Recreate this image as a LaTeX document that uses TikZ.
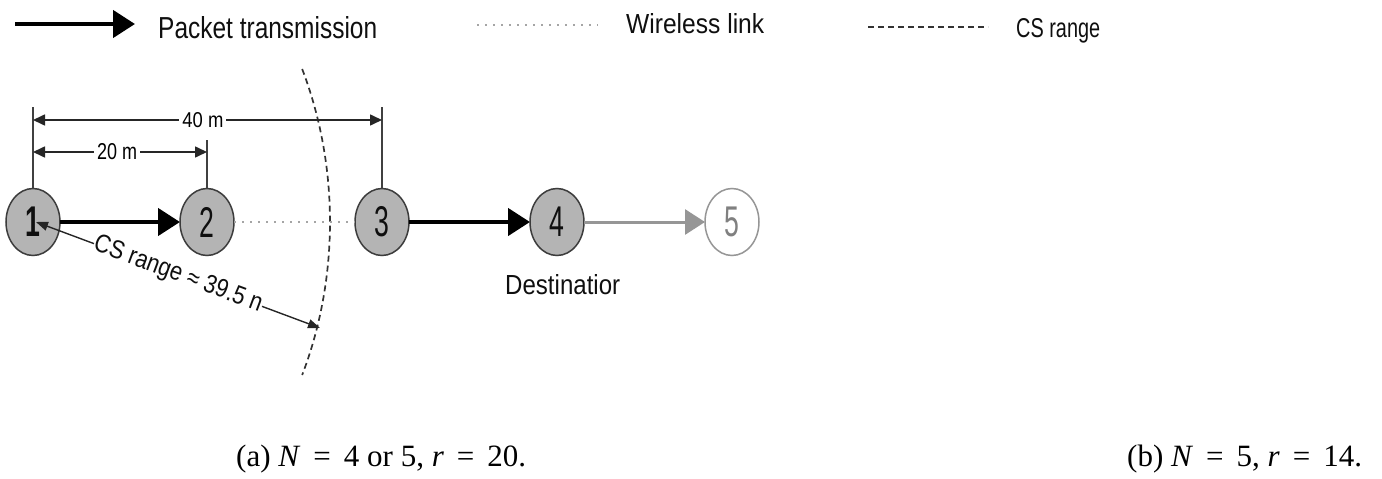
\documentclass[tikz,border=0pt]{standalone}
\usepackage{fontspec}
\usepackage{graphicx}
\setmainfont{Liberation Sans}
\newfontfamily\serifcap{Liberation Serif}
\newfontfamily\numfont[FakeStretch=0.62]{Liberation Sans}
\usetikzlibrary{arrows.meta,shapes.geometric}
\definecolor{nodefill}{RGB}{180,180,180}
\definecolor{nodeline}{RGB}{60,60,60}
\definecolor{linkgray}{RGB}{165,165,165}
\definecolor{fadegray}{RGB}{150,150,150}
\definecolor{inkgray}{RGB}{15,15,15}
% squeeze a label to a given width and height (pt)
\newcommand{\fitlabel}[3]{\resizebox{#1pt}{#2pt}{#3}}
% relation sign with the wider spacing of the captions
\newcommand{\capeq}{\hspace{0.42em}=\hspace{0.42em}}

\begin{document}
\begin{tikzpicture}[x=1pt,y=-1pt,
  station/.style={ellipse, draw=nodeline, line width=1.5pt, fill=nodefill,
    minimum width=54pt, minimum height=67pt, inner sep=0pt, outer sep=0pt,
    text=inkgray, font=\fontsize{43}{43}\numfont},
  idle/.style={station, fill=white, draw=fadegray, text=fadegray!85!black},
  pkt/.style={draw=black, line width=4.5pt, -{Triangle[length=22pt,width=27pt]}},
  fwd/.style={draw=fadegray, line width=3pt, -{Triangle[length=20pt,width=25pt]}},
  link/.style={draw=linkgray, line width=2pt, dash pattern=on 2pt off 6pt},
  csline/.style={draw=black!80, line width=1.7pt, dash pattern=on 6pt off 4pt},
  ext/.style={draw=black!75, line width=1.4pt},
  dimline/.style={draw=black!85, line width=1.6pt,
    {Triangle[length=12pt,width=11pt]}-{Triangle[length=12pt,width=11pt]}},
  csarrow/.style={draw=black!85, line width=1.4pt,
    {Triangle[length=12pt,width=9pt]}-{Triangle[length=12pt,width=9pt]}},
  lbl/.style={inner sep=0pt, text=inkgray},
]
\useasboundingbox (0,0) rectangle (1382,479);

% ---- legend ----
\coordinate (lgPa) at (15,24);
\coordinate (lgPb) at (135,24);
\draw[pkt] (lgPa) -- (lgPb);
\node[lbl, anchor=base west] (lgPt) at (158,38) {\fitlabel{219}{22}{Packet transmission}};
\coordinate (lgWa) at (477,25);
\coordinate (lgWb) at (598,25);
\draw[link] (lgWa) -- (lgWb);
\node[lbl, anchor=base west] (lgWt) at (626,33) {\fitlabel{138}{20}{Wireless link}};
\coordinate (lgCa) at (868,27);
\coordinate (lgCb) at (988,27);
\draw[csline] (lgCa) -- (lgCb);
\node[lbl, anchor=base west] (lgCt) at (1016,37) {\fitlabel{84}{19}{CS range}};

% ---- carrier-sense boundary of station 1 ----
\draw[csline] plot[domain=-25:25, samples=50, smooth]
  ({33+297*cos(\x)},{222+362*sin(\x)});

% ---- stations ----
\node[station] (n1) at (33,222) {\bfseries 1};
\node[station] (n2) at (207,222) {2};
\node[station] (n3) at (382,222) {3};
\node[station] (n4) at (557,222) {4};
\node[idle]    (n5) at (732,222) {5};

% ---- links ----
\draw[pkt] (n1) -- (n2);
\draw[link] (n2) -- (n3);
\draw[pkt] (n3) -- (n4);
\draw[fwd] (n4) -- (n5);

\node[lbl, anchor=base west] (dest) at (505,294) {\fitlabel{115}{20}{Destinatior}};

% ---- distances ----
\coordinate (top40) at (0,107);
\coordinate (top20) at (0,140);
\coordinate (d40) at (0,120);
\coordinate (d20) at (0,152);
\draw[ext] (n1.north) -- (n1.north |- top40);
\draw[ext] (n2.north) -- (n2.north |- top20);
\draw[ext] (n3.north) -- (n3.north |- top40);
\draw[dimline] (n1.north |- d40) -- node[pos=0.487, fill=white, inner xsep=3pt, inner ysep=1pt]
  {\fitlabel{41}{15}{40 m}} (n3.north |- d40);
\draw[dimline] (n1.north |- d20) -- node[pos=0.483, fill=white, inner xsep=3pt, inner ysep=1pt]
  {\fitlabel{40}{16}{20 m}} (n2.north |- d20);

% ---- carrier-sense range ----
\coordinate (csTip) at (36,222);
\coordinate (csEnd) at (320,328);
\draw[csarrow] (csTip) -- node[sloped, fill=white, inner sep=0.5pt, text=inkgray]
  {\fitlabel{178}{18}{CS range ≈ 39.5 n}} (csEnd);

% ---- captions ----
\node[anchor=base west, inner sep=0pt] (capA) at (236,466)
  {\fontsize{31}{36}\serifcap (a) \textit{N}\capeq 4 or 5, \textit{r}\capeq 20.};
\node[anchor=base west, inner sep=0pt] (capB) at (1127,466)
  {\fontsize{31}{36}\serifcap (b) \textit{N}\capeq 5, \textit{r}\capeq 14.};
\end{tikzpicture}
\end{document}
